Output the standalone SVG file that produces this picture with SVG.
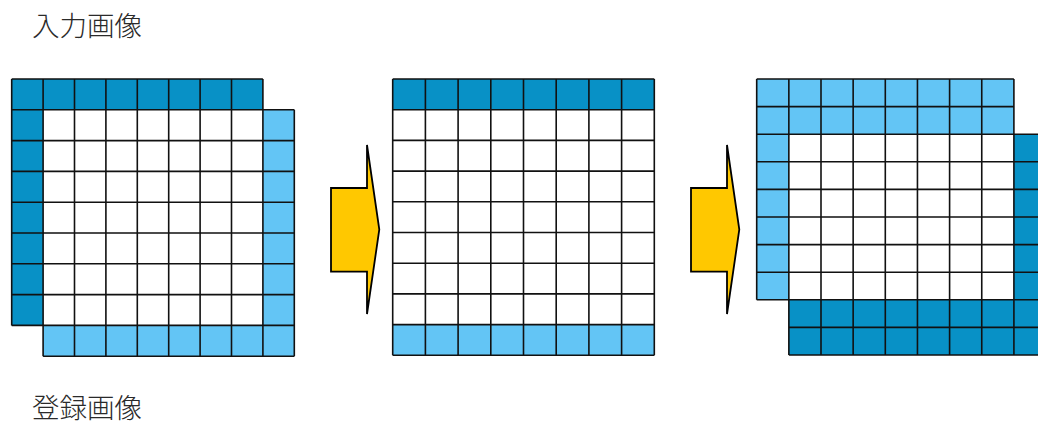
<svg xmlns="http://www.w3.org/2000/svg" width="1038" height="425" viewBox="0 0 1038 425">
<style>
.dk{fill:#0891C6}
.lt{fill:#63C5F5}
.wh{fill:#ffffff}
.ln{fill:none;stroke:#111;stroke-width:1.6}
.lbl{font-family:"Noto Sans CJK JP","Noto Sans",sans-serif;font-size:27.5px;font-weight:300;fill:#2a2a2a}
.arr{fill:#FFC800;stroke:#000;stroke-width:1.8;stroke-linejoin:miter}
</style>
<rect width="1038" height="425" fill="#fff"/>
<text class="lbl" x="32" y="35.5">入力画像</text>
<text class="lbl" x="32" y="418">登録画像</text>

<g id="input-grid">
<rect class="wh" x="43.1" y="109.8" width="219.8" height="215.6"/>
<rect class="dk" x="11.7" y="79" width="251.2" height="30.8"/>
<rect class="dk" x="11.7" y="109.8" width="31.4" height="215.6"/>
<rect class="lt" x="262.9" y="109.8" width="31.4" height="246.4"/>
<rect class="lt" x="43.1" y="325.4" width="219.8" height="30.8"/>
<path class="ln" d="M11.7 79H262.9M11.7 109.8H294.3M11.7 140.6H294.3M11.7 171.4H294.3M11.7 202.2H294.3M11.7 233H294.3M11.7 263.8H294.3M11.7 294.6H294.3M11.7 325.4H294.3M43.1 356.2H294.3
M11.7 79V325.4M43.1 79V356.2M74.5 79V356.2M105.9 79V356.2M137.3 79V356.2M168.7 79V356.2M200.1 79V356.2M231.5 79V356.2M262.9 79V356.2M294.3 109.8V356.2"/>
</g>

<g id="middle-grid">
<rect class="wh" x="392.7" y="109.7" width="261.6" height="214.9"/>
<rect class="dk" x="392.7" y="79" width="261.6" height="30.7"/>
<rect class="lt" x="392.7" y="324.6" width="261.6" height="30.7"/>
<path class="ln" d="M392.7 79H654.3M392.7 109.7H654.3M392.7 140.4H654.3M392.7 171.1H654.3M392.7 201.8H654.3M392.7 232.5H654.3M392.7 263.2H654.3M392.7 293.9H654.3M392.7 324.6H654.3M392.7 355.3H654.3
M392.7 79V355.3M425.4 79V355.3M458.1 79V355.3M490.8 79V355.3M523.5 79V355.3M556.2 79V355.3M588.9 79V355.3M621.6 79V355.3M654.3 79V355.3"/>
</g>

<g id="registered-grid">
<rect class="wh" x="788.85" y="134.2" width="225.05" height="165.6"/>
<rect class="lt" x="756.7" y="79" width="257.2" height="55.2"/>
<rect class="lt" x="756.7" y="134.2" width="32.15" height="165.6"/>
<rect class="dk" x="1013.9" y="134.2" width="32.15" height="220.8"/>
<rect class="dk" x="788.85" y="299.8" width="225.05" height="55.2"/>
<path class="ln" d="M756.7 79H1013.9M756.7 106.6H1013.9M756.7 134.2H1046M756.7 161.8H1046M756.7 189.4H1046M756.7 217H1046M756.7 244.6H1046M756.7 272.2H1046M756.7 299.8H1046M788.85 327.4H1046M788.85 355H1046
M756.7 79V299.8M788.85 79V355M821 79V355M853.15 79V355M885.3 79V355M917.45 79V355M949.6 79V355M981.75 79V355M1013.9 79V355M1046 134.2V355"/>
</g>

<g id="connectors">
<polygon class="arr" points="331,188 367,188 367,145 379.3,229.5 367,314 367,271.7 331,271.7"/>
<polygon class="arr" points="691,188 727,188 727,145 739.3,229.5 727,314 727,271.7 691,271.7"/>
</g>
</svg>
